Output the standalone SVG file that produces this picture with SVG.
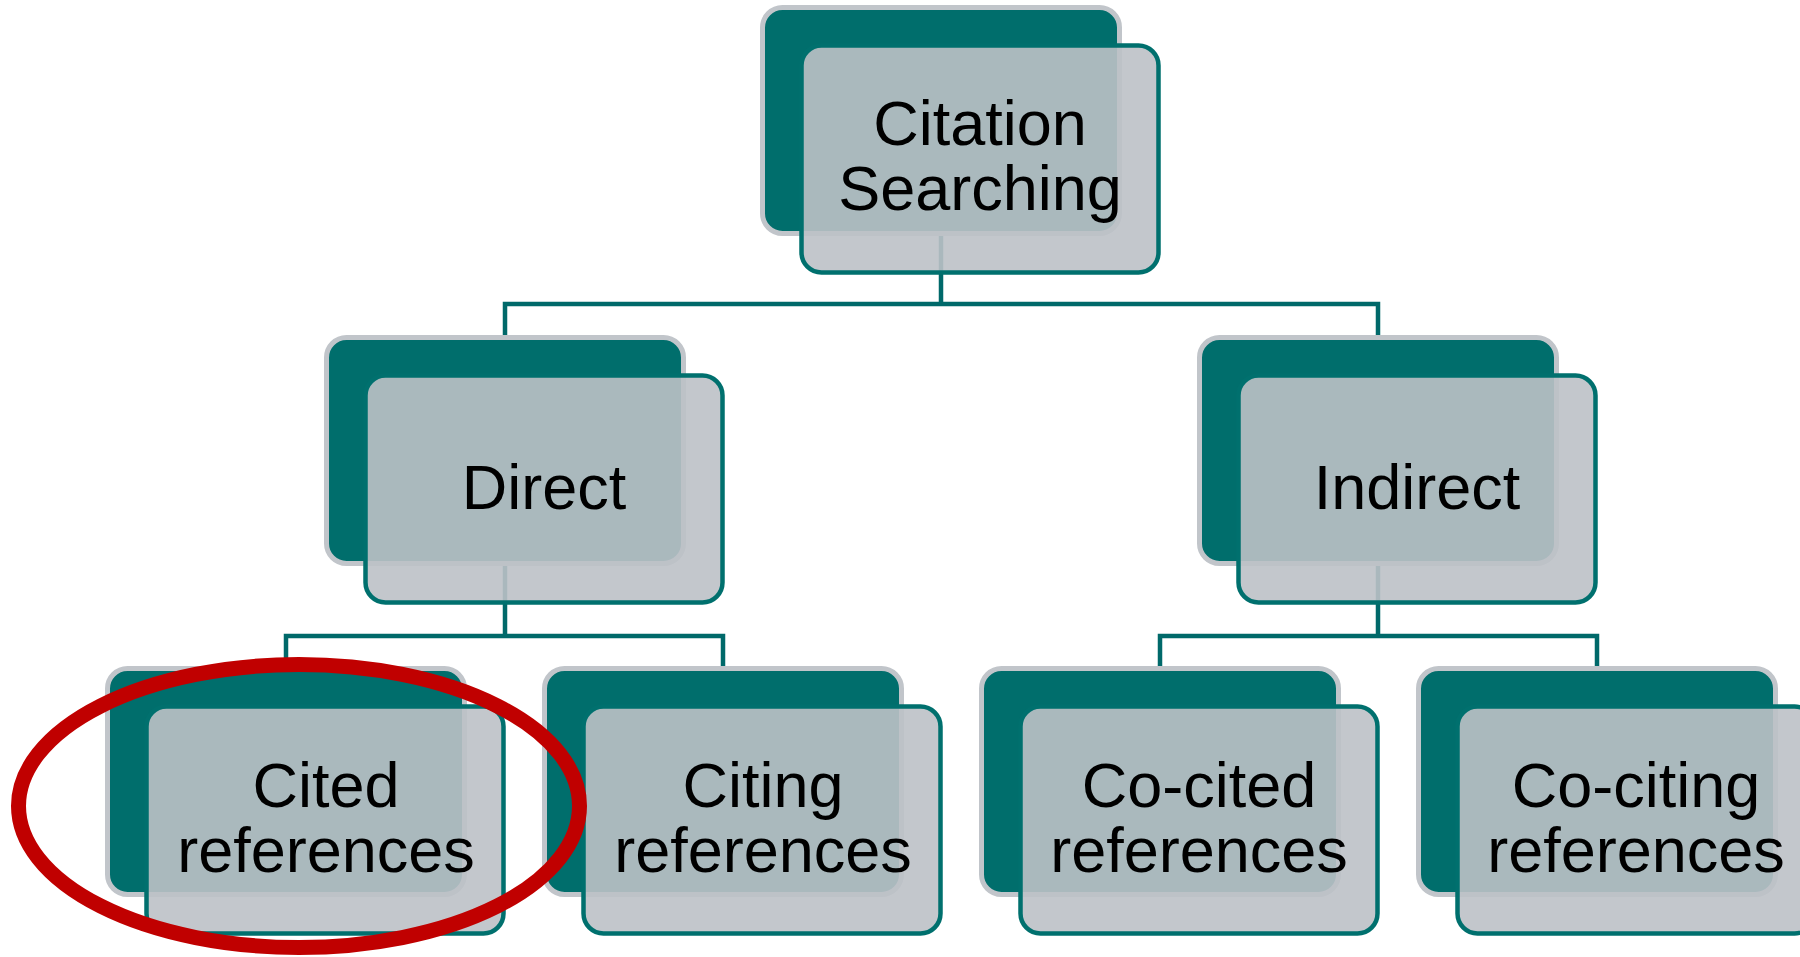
<svg xmlns="http://www.w3.org/2000/svg" width="1800" height="957" viewBox="0 0 1800 957">
  <style>
    .back { fill: #006e6c; stroke: #c1c5ca; stroke-width: 5; }
    .front { fill: #bdc1c7; fill-opacity: 0.9; stroke: #00706e; stroke-width: 4.5; }
    .conn { fill: none; stroke: #00696a; stroke-width: 4.5; stroke-linejoin: miter; }
    .label { font-family: "Liberation Sans", Arial, sans-serif; font-size: 63px; fill: #000; text-anchor: middle; }
    .mark { fill: none; stroke: #c00000; stroke-width: 15; }
  </style>

  <!-- connectors sit underneath the boxes -->
  <g id="connectors">
    <path class="conn" d="M505 337 V304 H1378 V337 M941 231 V304"/>
    <path class="conn" d="M286 668 V636 H723 V668 M505 565 V636"/>
    <path class="conn" d="M1160 668 V636 H1597 V668 M1378 565 V636"/>
  </g>

  <g id="node-citation-searching">
    <rect class="back" x="762.5" y="7.5" width="357" height="226" rx="20"/>
    <rect class="front" x="801.5" y="45.5" width="357" height="227" rx="20"/>
    <text class="label" x="980" y="145">Citation</text>
    <text class="label" x="980" y="210">Searching</text>
  </g>

  <g id="node-direct">
    <rect class="back" x="326.5" y="337.5" width="357" height="226" rx="20"/>
    <rect class="front" x="365.5" y="375.5" width="357" height="227" rx="20"/>
    <text class="label" x="544" y="509">Direct</text>
  </g>

  <g id="node-indirect">
    <rect class="back" x="1199.5" y="337.5" width="357" height="226" rx="20"/>
    <rect class="front" x="1238.5" y="375.5" width="357" height="227" rx="20"/>
    <text class="label" x="1417" y="509">Indirect</text>
  </g>

  <g id="node-cited">
    <rect class="back" x="107.5" y="668.5" width="357" height="226" rx="20"/>
    <rect class="front" x="146.5" y="706.5" width="357" height="227" rx="20"/>
    <text class="label" x="326" y="807">Cited</text>
    <text class="label" x="326" y="872">references</text>
  </g>

  <g id="node-citing">
    <rect class="back" x="544.5" y="668.5" width="357" height="226" rx="20"/>
    <rect class="front" x="583.5" y="706.5" width="357" height="227" rx="20"/>
    <text class="label" x="763" y="807">Citing</text>
    <text class="label" x="763" y="872">references</text>
  </g>

  <g id="node-co-cited">
    <rect class="back" x="981.5" y="668.5" width="357" height="226" rx="20"/>
    <rect class="front" x="1020.5" y="706.5" width="357" height="227" rx="20"/>
    <text class="label" x="1199" y="807">Co-cited</text>
    <text class="label" x="1199" y="872">references</text>
  </g>

  <g id="node-co-citing">
    <rect class="back" x="1418.5" y="668.5" width="357" height="226" rx="20"/>
    <rect class="front" x="1457.5" y="706.5" width="357" height="227" rx="20"/>
    <text class="label" x="1636" y="807">Co-citing</text>
    <text class="label" x="1636" y="872">references</text>
  </g>

  <!-- red highlight ring around "Cited references" -->
  <g id="highlight">
    <ellipse class="mark" cx="299" cy="806" rx="280.5" ry="141.5"/>
  </g>
</svg>
